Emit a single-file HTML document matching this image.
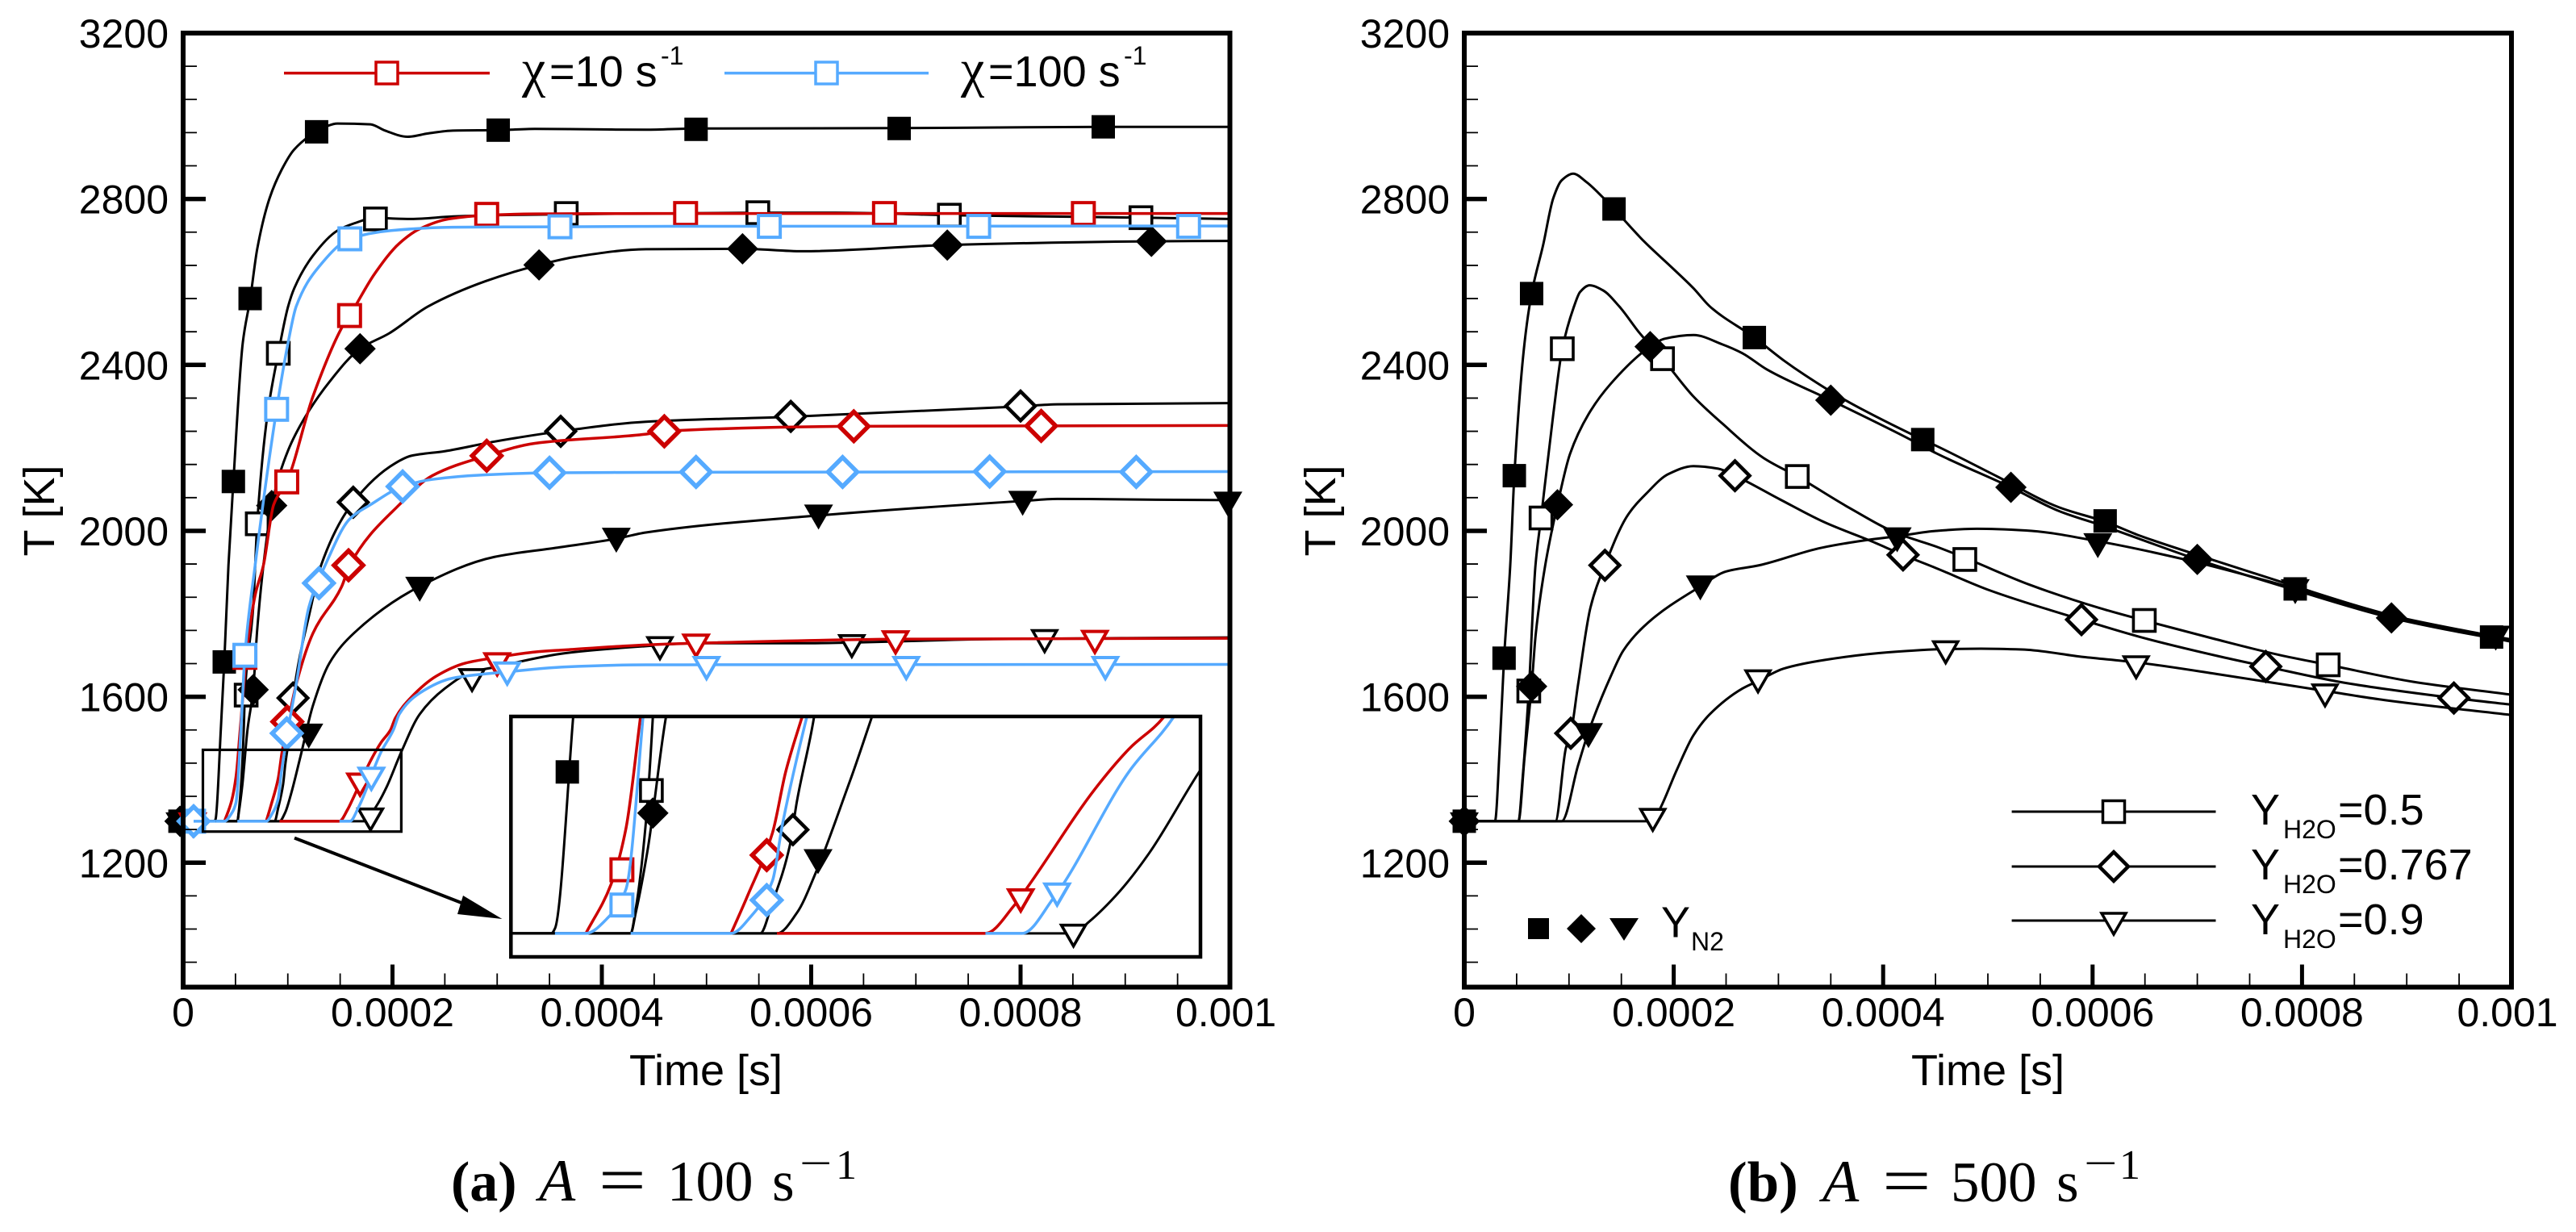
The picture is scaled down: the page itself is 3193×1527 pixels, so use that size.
<!DOCTYPE html>
<html lang="en">
<head>
<meta charset="utf-8">
<title>Temperature versus time</title>
<style>
html,body{margin:0;padding:0;background:#fff;}
svg{display:block;}
text{font-family:"Liberation Sans",sans-serif;fill:#000;}
.serif{font-family:"Liberation Serif",serif;}
</style>
</head>
<body>
<svg id="figure" xmlns="http://www.w3.org/2000/svg" width="3193" height="1527" viewBox="0 0 3193 1527">
<rect x="0" y="0" width="3193" height="1527" fill="#fff"/>
<defs>
<clipPath id="inset-clip"><rect x="633.3" y="888" width="854.7" height="298"/></clipPath>
</defs>
<g id="panel-a"></g>
<g id="panel-b"></g>

<g>
<line x1="352" y1="90.6" x2="607" y2="90.6" stroke="#cc0000" stroke-width="3.5"/>
<rect x="466" y="77" width="27" height="27" fill="#fff" stroke="#cc0000" stroke-width="3.5"/>
<text class="serif" x="647" y="107" font-size="66">χ</text>
<text x="681" y="107" font-size="54">=10 s</text>
<text x="819" y="80" font-size="32">-1</text>
<line x1="898" y1="90.6" x2="1151" y2="90.6" stroke="#55aaff" stroke-width="3.5"/>
<rect x="1011" y="77" width="27" height="27" fill="#fff" stroke="#55aaff" stroke-width="3.5"/>
<text class="serif" x="1191" y="107" font-size="66">χ</text>
<text x="1225" y="107" font-size="54">=100 s</text>
<text x="1393" y="80" font-size="32">-1</text>
</g>

<g>
<line x1="2493.6" y1="1006" x2="2746.5" y2="1006" stroke="#000" stroke-width="3"/>
<rect x="2606.5" y="992.5" width="27" height="27" fill="#fff" stroke="#000" stroke-width="3.5"/>
<text x="2790" y="1022" font-size="54">Y</text>
<text x="2830" y="1039" font-size="32">H2O</text>
<text x="2898" y="1022" font-size="54">=0.5</text>
<line x1="2493.6" y1="1074" x2="2746.5" y2="1074" stroke="#000" stroke-width="3"/>
<polygon points="2620,1056 2638,1074 2620,1092 2602,1074" fill="#fff" stroke="#000" stroke-width="4.5"/>
<text x="2790" y="1090" font-size="54">Y</text>
<text x="2830" y="1107" font-size="32">H2O</text>
<text x="2898" y="1090" font-size="54">=0.767</text>
<line x1="2493.6" y1="1141" x2="2746.5" y2="1141" stroke="#000" stroke-width="3"/>
<polygon points="2605,1132 2635,1132 2620,1158" fill="#fff" stroke="#000" stroke-width="3.5"/>
<text x="2790" y="1158" font-size="54">Y</text>
<text x="2830" y="1175" font-size="32">H2O</text>
<text x="2898" y="1158" font-size="54">=0.9</text>
</g>

<g>
<rect x="1894" y="1138" width="26" height="26" fill="#000"/>
<polygon points="1960,1133 1978,1151 1960,1169 1942,1151" fill="#000"/>
<polygon points="1995,1138 2031,1138 2013,1166" fill="#000"/>
<text x="2059" y="1161.5" font-size="54">Y</text>
<text x="2096" y="1178" font-size="32">N2</text>
</g>

<g>
<text x="875" y="1345" font-size="54" text-anchor="middle">Time [s]</text>
<text x="2464" y="1345" font-size="54" text-anchor="middle">Time [s]</text>
<text transform="translate(67,633) rotate(-90)" font-size="54" text-anchor="middle">T [K]</text>
<text transform="translate(1655,633) rotate(-90)" font-size="54" text-anchor="middle">T [K]</text>
</g>

<g>
<text class="serif" x="559" y="1488" font-size="70" font-weight="bold">(a)</text>
<text class="serif" x="668" y="1488" font-size="74" font-style="italic">A</text>
<text class="serif" transform="translate(742,1490) scale(1.27,1)" font-size="82">=</text>
<text class="serif" x="827" y="1488" font-size="71">100</text>
<text class="serif" x="957" y="1488" font-size="71">s</text>
<text class="serif" transform="translate(991,1459) scale(1.38,1)" font-size="52">−</text>
<text class="serif" x="1036" y="1461" font-size="52">1</text>
</g>
<g>
<text class="serif" x="2142" y="1489" font-size="71" font-weight="bold">(b)</text>
<text class="serif" x="2259" y="1489" font-size="74" font-style="italic">A</text>
<text class="serif" transform="translate(2333,1491) scale(1.31,1)" font-size="82">=</text>
<text class="serif" x="2418" y="1489" font-size="71">500</text>
<text class="serif" x="2549" y="1489" font-size="71">s</text>
<text class="serif" transform="translate(2583,1459) scale(1.42,1)" font-size="52">−</text>
<text class="serif" x="2627" y="1461" font-size="52">1</text>
</g>
</svg>

<script>
// ===== Shared axis data (time in microseconds, temperature in kelvin) =====
const xTickValues = [0, 200, 400, 600, 800, 1000];
const xTickLabels = ['0', '0.0002', '0.0004', '0.0006', '0.0008', '0.001'];
const xMinorValues = [50, 100, 150, 250, 300, 350, 450, 500, 550, 650, 700, 750, 850, 900, 950];
const yTickValues = [1200, 1600, 2000, 2400, 2800, 3200];
const yTickLabels = ['1200', '1600', '2000', '2400', '2800', '3200'];
const yMinorValues = [960, 1040, 1120, 1280, 1360, 1440, 1520, 1680, 1760, 1840, 1920, 2080, 2160, 2240, 2320, 2480, 2560, 2640, 2720, 2880, 2960, 3040, 3120];

// ===== Panel (a) A = 100 1/s =====
const aSquareFilledLine = [[0,1300],[30,1300],[31,1305],[36,1521],[39.3,1684],[43.3,1917],[48,2119],[57,2454],[64.1,2560],[70.8,2680],[82.6,2802],[94.4,2872],[106,2919],[127.5,2962],[147.5,2982],[179,2980],[192.8,2965],[214.4,2950],[234,2958],[257.7,2965],[301,2966],[336,2969],[442,2967],[490,2970],[684,2971],[879,2974],[1000,2974]];
const aSquareFilledMarks = [[-3,1300],[39.3,1684],[48,2119],[64,2560],[127.5,2962],[301,2966],[490,2968],[684,2970],[879,2974]];

const aDiamondFilledLine = [[0,1300],[51.8,1300],[53.2,1321],[56.5,1386],[61.5,1521],[66.9,1617],[70.8,1763],[76.7,1917],[84.6,2061],[100.3,2194],[116,2272],[139.7,2359],[169,2439],[196.7,2476],[234,2541],[289,2602],[340,2641],[375.7,2661],[442,2679],[534.4,2680],[591.5,2674],[730,2689],[925,2698],[1000,2699]];
const aDiamondFilledMarks = [[-3,1300],[66.9,1617],[84.6,2061],[169,2439],[340,2641],[534.4,2680],[730,2689],[925,2698]];

const aTriangleFilledLine = [[0,1300],[92.1,1300],[97.5,1321],[102.9,1364],[112,1455],[123.9,1578],[139.7,1681],[163,1753],[226,1866],[297,1937],[356,1959],[413.8,1981],[442,1996],[607,2037],[802,2072],[835,2077],[930,2075],[1000,2074]];
const aTriangleFilledMarks = [[-3,1300],[120,1514],[226,1868],[413.8,1986],[607,2042],[802,2075],[998,2073]];

const aSquareOpenLine = [[0,1300],[51.8,1300],[53.2,1325],[55.9,1410],[57.9,1521],[59,1609],[66.9,1815],[70.8,2020],[80.6,2281],[90.9,2428],[100.3,2541],[106.2,2585],[123.9,2663],[147.5,2724],[163,2741],[183,2754],[218,2752],[258,2758],[297,2761],[366,2763],[549,2767],[623,2767],[732,2761],[855,2757],[915,2755],[1000,2752]];
const aSquareOpenMarks = [[60.2,1604],[70.8,2017],[90.9,2428],[183.7,2752],[366,2765],[549,2767],[732,2761],[915,2755]];

const aDiamondOpenLine = [[0,1300],[87.4,1300],[90.8,1332],[95.5,1389],[97.5,1435],[102.2,1521],[105,1597],[122,1815],[131.8,1917],[162.5,2069],[202.6,2163],[218,2181],[250,2192],[297,2215],[360.7,2240],[442,2263],[579.7,2275],[800,2300],[835,2305],[1000,2308]];
const aDiamondOpenMarks = [[105,1597],[162.5,2069],[360.7,2240],[580.5,2276],[800,2301]];

const aTriangleOpenLine = [[0,1300],[173.5,1300],[177.5,1311],[186.2,1343],[194.3,1382],[208.4,1467],[226,1558],[250,1620],[276,1660],[297,1671],[364.7,1705],[442,1722],[487.5,1729],[590,1729],[774,1739],[1000,1743]];
const aTriangleOpenMarks = [[179,1312],[276,1648],[455.5,1725],[638.8,1730],[823,1742]];

const aSquareRedLine = [[39.5,1300],[46.4,1350],[50.5,1407],[54.5,1521],[61,1712],[68.8,1845],[76.7,1917],[86.5,2063],[99,2118],[124,2324],[153.4,2498],[159,2519],[183,2620],[206.5,2693],[226,2728],[254,2752],[290,2761],[336,2764],[442,2765],[1000,2765]];
const aSquareRedMarks = [[59,1695],[99,2118],[159,2519],[290,2763],[480,2765],[670,2765],[860,2765]];

const aDiamondRedLine = [[79.4,1300],[84,1339],[90.8,1403],[94.4,1465],[98.9,1521],[108,1630],[124,1753],[151.5,1866],[159,1917],[206.5,2063],[238,2133],[290,2181],[336,2211],[442,2233],[459.7,2240],[640.7,2252],[819.7,2253],[1000,2254]];
const aDiamondRedMarks = [[99.5,1540],[158,1917],[290,2181],[459.7,2240],[640.7,2252],[819.7,2253]];

const aTriangleRedLine = [[92,1300],[149.3,1300],[157.3,1329],[161.4,1350],[179.5,1448],[188.9,1489],[198.3,1521],[202.6,1548],[218,1599],[242,1650],[269.5,1681],[300,1695],[336,1708],[364.7,1713],[442,1725],[487.5,1729],[692,1739],[1000,1741]];
const aTriangleRedMarks = [[9,1300],[169,1396],[300,1686],[490,1731],[680.6,1739],[871,1740]];

const aSquareBlueStub = [[10,1300],[31,1300]];
const aSquareBlueLine = [[31,1300],[39.5,1300],[45.8,1317],[50.5,1345],[55.2,1521],[59,1700],[68.8,1917],[89.3,2293],[100.3,2454],[108,2541],[129.8,2637],[159.3,2704],[198.7,2724],[257.7,2732],[360,2733],[442,2734],[1000,2735]];
const aSquareBlueMarks = [[10,1300],[59,1700],[89.3,2293],[159.3,2704],[360,2733],[560,2734],[760,2734],[960.5,2734]];

const aDiamondBlueLine = [[51.8,1300],[79.4,1300],[85,1318],[90.8,1354],[93.5,1411],[100.2,1521],[108,1630],[120,1815],[135.7,1917],[159.3,2029],[179,2063],[209.7,2107],[238,2124],[289,2135],[350,2140],[442,2141],[1000,2143]];
const aDiamondBlueMarks = [[10,1300],[99,1512],[129.8,1874],[209.7,2107],[350,2140],[490,2142],[630,2142],[770.5,2143],[910.5,2142]];

const aTriangleBlueLine = [[149.3,1300],[159.4,1300],[168,1336],[188.9,1466],[201,1521],[206.5,1558],[226,1609],[257.7,1645],[309.6,1660],[364.7,1672],[442,1677],[1000,1678]];
const aTriangleBlueMarks = [[179.8,1410],[309.6,1664],[500,1677],[690.8,1677],[881,1677]];

// Inset marker readings (the magnified view carries its own symbols)
const insetSquareFilledMarks = [[34.4,1465]];
const insetSquareOpenMarks = [[57.5,1446]];
const insetDiamondFilledMarks = [[57.9,1423]];
const insetTriangleFilledMarks = [[103.3,1377]];
const insetDiamondOpenMarks = [[96.4,1406]];
const insetTriangleOpenMarks = [[173.5,1301]];
const insetSquareRedMarks = [[49.4,1365]];
const insetDiamondRedMarks = [[89.2,1380]];
const insetTriangleRedMarks = [[159,1337]];
const insetSquareBlueMarks = [[49.4,1329]];
const insetDiamondBlueMarks = [[89.2,1334]];
const insetTriangleBlueMarks = [[169,1343]];

// ===== Panel (b) A = 500 1/s =====
const bSquareOpenLine = [[0,1300],[51.7,1300],[55.7,1404],[61.6,1614],[68,1917],[73.3,2031],[85,2281],[93.6,2439],[104.8,2541],[110.6,2576],[119.7,2592],[132.3,2580],[148,2541],[167.7,2476],[189.3,2415],[218.8,2324],[246.3,2259],[285.6,2176],[318,2131],[368,2055],[413.4,1994],[450.7,1962],[478,1935],[540,1870],[606.5,1814],[649.4,1784],[715.6,1740],[778,1701],[825,1677],[906.5,1636],[1000,1605]];
const bSquareOpenMarks = [[61.6,1614],[73.3,2031],[93.6,2439],[189.3,2415],[318,2131],[478,1931],[649.4,1784],[825,1677]];

const bDiamondOpenLine = [[0,1300],[87,1300],[97,1476],[101.7,1512],[108.7,1630],[120.5,1815],[134.3,1917],[155.9,2037],[173.5,2089],[195,2137],[218.8,2156],[242.4,2150],[258.5,2133],[301.3,2076],[344.6,2020],[387.8,1976],[419,1942],[450.7,1910],[501.3,1857],[589.4,1786],[645.5,1744],[723.4,1696],[765.4,1673],[840,1634],[945,1597],[1000,1581]];
const bDiamondOpenMarks = [[101.7,1512],[134.3,1917],[258.5,2133],[419,1942],[589.4,1786],[765.4,1673],[945,1597]];

const bTriangleOpenLine = [[0,1300],[180,1300],[187.3,1332],[203,1424],[218.8,1507],[234.5,1558],[265.7,1620],[280.5,1638],[305,1668],[344.6,1689],[403.5,1707],[459.7,1715],[493.5,1716],[532.5,1714],[591,1696],[641.6,1683],[723.4,1653],[822,1614],[879,1592],[1000,1556]];
const bTriangleOpenMarks = [[180,1311],[280.5,1645],[459.7,1715],[641.6,1679],[822,1611]];

const bSquareFilledLine = [[0,1300],[29.3,1300],[34,1486],[38,1693],[43.9,1917],[47.8,2133],[57.6,2454],[64.3,2572],[75.3,2689],[85,2802],[93,2845],[104,2861],[116.6,2841],[132.3,2804],[143,2776],[171.6,2698],[199,2633],[218.8,2585],[234.5,2541],[277,2466],[305,2411],[325,2376],[364,2315],[437.8,2220],[450.7,2205],[509,2131],[567.6,2057],[612,2022],[645.5,1988],[700,1942],[793.5,1866],[859.7,1814],[918,1775],[981,1744],[1000,1736]];
const bSquareFilledMarks = [[0,1300],[38,1693],[47.8,2133],[64.3,2572],[143,2776],[277,2466],[437.8,2220],[612,2024],[793.5,1860],[981,1744]];

const bDiamondFilledLine = [[0,1300],[51.7,1300],[57.6,1455],[64.3,1625],[68.2,1750],[77.3,1917],[89,2063],[100.9,2185],[118.6,2281],[140,2355],[177.5,2444],[191,2463],[219,2472],[246,2450],[265.7,2428],[289,2389],[350,2315],[423,2224],[450.7,2187],[522,2105],[567.6,2048],[610,2012],[700,1931],[793.5,1857],[885.4,1790],[937.6,1762],[1000,1733]];
const bDiamondFilledMarks = [[0,1300],[64.3,1625],[89,2063],[177.5,2444],[350,2315],[522,2105],[700,1931],[885.4,1790]];

const bTriangleFilledLine = [[0,1300],[93,1300],[108.7,1435],[118.6,1515],[140,1650],[152,1712],[175.6,1779],[225.4,1866],[250,1902],[281.7,1917],[340.7,1959],[387.8,1979],[413.4,1987],[450.7,2000],[489.6,2005],[536.4,2001],[605,1975],[688,1931],[793.5,1861],[885,1796],[981,1747],[1000,1738]];
const bTriangleFilledMarks = [[0,1300],[118.6,1515],[225.4,1871],[413.4,1987],[605,1973],[793.5,1862],[985,1750]];

// ===== Axis functions =====
const frameA = {left: 227, right: 1524.5, top: 41, bottom: 1223.5};
const frameB = {left: 1815, right: 3113, top: 41, bottom: 1223.5};
const tempMin = 900;
const tempMax = 3200;
const timeMax = 1000;
function xAxis(frame) { return function (t) { return frame.left + t / timeMax * (frame.right - frame.left); }; }
function yAxis(frame) { return function (T) { return frame.top + (tempMax - T) / (tempMax - tempMin) * (frame.bottom - frame.top); }; }
const insetBox = {left: 633.3, right: 1488, top: 888, bottom: 1186, tMin: 18.9, tMax: 208.4, TMin: 1276, TMax: 1521.7};
function insetX(t) { return insetBox.left + (t - insetBox.tMin) / (insetBox.tMax - insetBox.tMin) * (insetBox.right - insetBox.left); }
function insetY(T) { return insetBox.bottom - (T - insetBox.TMin) / (insetBox.TMax - insetBox.TMin) * (insetBox.bottom - insetBox.top); }

// ===== Drawing helpers =====
const NS = 'http://www.w3.org/2000/svg';
function make(tag, parent, attrs) {
  const node = document.createElementNS(NS, tag);
  for (const key in attrs) { node.setAttribute(key, attrs[key]); }
  parent.appendChild(node);
  return node;
}
function curve(points) {
  const n = points.length;
  const dx = [], m = [], slope = [];
  for (let i = 0; i < n - 1; i++) {
    dx[i] = Math.max(points[i + 1][0] - points[i][0], 0.001);
    m[i] = (points[i + 1][1] - points[i][1]) / dx[i];
  }
  slope[0] = m[0];
  slope[n - 1] = m[n - 2];
  for (let i = 1; i < n - 1; i++) {
    if (m[i - 1] * m[i] <= 0) { slope[i] = 0; }
    else {
      const w1 = 2 * dx[i] + dx[i - 1], w2 = dx[i] + 2 * dx[i - 1];
      slope[i] = (w1 + w2) / (w1 / m[i - 1] + w2 / m[i]);
    }
  }
  let d = 'M' + points[0][0].toFixed(2) + ' ' + points[0][1].toFixed(2);
  for (let i = 0; i < n - 1; i++) {
    const h = dx[i] / 3;
    d += 'C' + (points[i][0] + h).toFixed(2) + ' ' + (points[i][1] + slope[i] * h).toFixed(2) + ' ' +
      (points[i + 1][0] - h).toFixed(2) + ' ' + (points[i + 1][1] - slope[i + 1] * h).toFixed(2) + ' ' +
      points[i + 1][0].toFixed(2) + ' ' + points[i + 1][1].toFixed(2);
  }
  return d;
}
function drawMarker(parent, shape, filled, color, cx, cy, label) {
  let mark;
  if (shape === 'square') {
    const h = filled ? 14.5 : 13.5;
    mark = make('rect', parent, {x: cx - h, y: cy - h, width: 2 * h, height: 2 * h});
  } else if (shape === 'diamond') {
    const h = filled ? 19.5 : 18;
    mark = make('polygon', parent, {points: cx + ',' + (cy - h) + ' ' + (cx + h) + ',' + cy + ' ' + cx + ',' + (cy + h) + ' ' + (cx - h) + ',' + cy});
  } else {
    const w = filled ? 18 : 15;
    const up = filled ? 11 : 9;
    const down = filled ? 20 : 17;
    mark = make('polygon', parent, {points: (cx - w) + ',' + (cy - up) + ' ' + (cx + w) + ',' + (cy - up) + ' ' + cx + ',' + (cy + down)});
  }
  mark.setAttribute('fill', filled ? color : '#fff');
  if (!filled) {
    mark.setAttribute('stroke', color);
    mark.setAttribute('stroke-width', shape === 'diamond' ? (color === '#000' ? 4.5 : 5.5) : (color === '#000' ? 3.6 : 4));
  }
  
  
}
function drawSeries(parent, s, marks, xf, yf, suffix) {
  const g = make('g', parent, {});
  
  
  const path = make('path', g, {d: curve(s.line.map(function (p) { return [xf(p[0]), yf(p[1])]; })), fill: 'none', stroke: s.color, 'stroke-width': s.color === '#000' ? 3 : 3.5, 'stroke-linejoin': 'round'});
  
  
  marks.forEach(function (p) {
    drawMarker(g, s.shape, s.filled, s.color, xf(p[0]), yf(p[1]), s.name + suffix + '-marker');
  });
}
function drawAxes(parent, frame, xf, yf, suffix) {
  xMinorValues.forEach(function (v) {
    const tick = make('line', parent, {x1: xf(v), x2: xf(v), y1: frame.bottom, y2: frame.bottom - 17, stroke: '#000', 'stroke-width': 1.8});
    
    
  });
  yMinorValues.forEach(function (v) {
    const tick = make('line', parent, {x1: frame.left, x2: frame.left + 17, y1: yf(v), y2: yf(v), stroke: '#000', 'stroke-width': 1.8});
    
    
  });
  xTickValues.forEach(function (v, i) {
    if (i > 0 && i < xTickValues.length - 1) {
      const tick = make('line', parent, {x1: xf(v), x2: xf(v), y1: frame.bottom, y2: frame.bottom - 28, stroke: '#000', 'stroke-width': 5});
      
      
    }
    const label = make('text', parent, {x: i === xTickValues.length - 1 ? xf(v) - 5 : xf(v), y: 1272, 'font-size': 50, 'text-anchor': 'middle'});
    label.textContent = xTickLabels[i];
    
    
  });
  yTickValues.forEach(function (v, i) {
    if (i < yTickValues.length - 1) {
      const tick = make('line', parent, {x1: frame.left, x2: frame.left + 28, y1: yf(v), y2: yf(v), stroke: '#000', 'stroke-width': 5.5});
      
      
    }
    const label = make('text', parent, {x: frame.left - 18, y: yf(v) + 18, 'font-size': 50, 'text-anchor': 'end'});
    label.textContent = yTickLabels[i];
    
    
  });
  const box = make('rect', parent, {x: frame.left, y: frame.top, width: frame.right - frame.left, height: frame.bottom - frame.top, fill: 'none', stroke: '#000', 'stroke-width': 6});
  
  
}

// ===== Series configuration =====
const BLACK = '#000';
const RED = '#cc0000';
const BLUE = '#55aaff';
const seriesA = [
  {name: 'series-h2o-05-black', color: BLACK, shape: 'square', filled: false, line: aSquareOpenLine, marks: aSquareOpenMarks, inset: insetSquareOpenMarks},
  {name: 'series-h2o-0767-black', color: BLACK, shape: 'diamond', filled: false, line: aDiamondOpenLine, marks: aDiamondOpenMarks, inset: insetDiamondOpenMarks},
  {name: 'series-h2o-09-black', color: BLACK, shape: 'triangle', filled: false, line: aTriangleOpenLine, marks: aTriangleOpenMarks, inset: insetTriangleOpenMarks},
  {name: 'series-n2-05', color: BLACK, shape: 'square', filled: true, line: aSquareFilledLine, marks: aSquareFilledMarks, inset: insetSquareFilledMarks},
  {name: 'series-n2-0767', color: BLACK, shape: 'diamond', filled: true, line: aDiamondFilledLine, marks: aDiamondFilledMarks, inset: insetDiamondFilledMarks},
  {name: 'series-n2-09', color: BLACK, shape: 'triangle', filled: true, line: aTriangleFilledLine, marks: aTriangleFilledMarks, inset: insetTriangleFilledMarks},
  {name: 'series-h2o-05-chi-10', color: RED, shape: 'square', filled: false, line: aSquareRedLine, marks: aSquareRedMarks, inset: insetSquareRedMarks},
  {name: 'series-h2o-0767-chi-10', color: RED, shape: 'diamond', filled: false, line: aDiamondRedLine, marks: aDiamondRedMarks, inset: insetDiamondRedMarks},
  {name: 'series-h2o-09-chi-10', color: RED, shape: 'triangle', filled: false, line: aTriangleRedLine, marks: aTriangleRedMarks, inset: insetTriangleRedMarks},
  {name: 'series-h2o-09-chi-100', color: BLUE, shape: 'triangle', filled: false, line: aTriangleBlueLine, marks: aTriangleBlueMarks, inset: insetTriangleBlueMarks},
  {name: 'series-h2o-05-chi-100', color: BLUE, shape: 'square', filled: false, line: aSquareBlueLine, marks: aSquareBlueMarks, inset: insetSquareBlueMarks},
  {name: 'series-h2o-0767-chi-100', color: BLUE, shape: 'diamond', filled: false, line: aDiamondBlueLine, marks: aDiamondBlueMarks, inset: insetDiamondBlueMarks}
];
const seriesB = [
  {name: 'series-b-h2o-05', color: BLACK, shape: 'square', filled: false, line: bSquareOpenLine, marks: bSquareOpenMarks},
  {name: 'series-b-h2o-0767', color: BLACK, shape: 'diamond', filled: false, line: bDiamondOpenLine, marks: bDiamondOpenMarks},
  {name: 'series-b-h2o-09', color: BLACK, shape: 'triangle', filled: false, line: bTriangleOpenLine, marks: bTriangleOpenMarks},
  {name: 'series-b-n2-09', color: BLACK, shape: 'triangle', filled: true, line: bTriangleFilledLine, marks: bTriangleFilledMarks},
  {name: 'series-b-n2-05', color: BLACK, shape: 'square', filled: true, line: bSquareFilledLine, marks: bSquareFilledMarks},
  {name: 'series-b-n2-0767', color: BLACK, shape: 'diamond', filled: true, line: bDiamondFilledLine, marks: bDiamondFilledMarks}
];

// ===== Panel (a) =====
const panelA = document.getElementById('panel-a');
const xA = xAxis(frameA);
const yA = yAxis(frameA);
seriesA.forEach(function (s) { drawSeries(panelA, s, s.marks, xA, yA, ''); });
const stub = make('path', panelA, {d: curve(aSquareBlueStub.map(function (p) { return [xA(p[0]), yA(p[1])]; })), fill: 'none', stroke: BLUE, 'stroke-width': 3.5});



const zoomBox = make('rect', panelA, {x: 251.5, y: 929.4, width: 245.9, height: 101.3, fill: 'none', stroke: '#000', 'stroke-width': 3.2});



const arrowShaft = make('line', panelA, {x1: 365, y1: 1038.6, x2: 590, y2: 1126, stroke: '#000', 'stroke-width': 4});


const arrowHead = make('polygon', panelA, {points: '622.4,1139 574,1110 567,1133', fill: '#000'});



const insetGroup = make('g', panelA, {});


const insetBg = make('rect', insetGroup, {x: insetBox.left, y: insetBox.top, width: insetBox.right - insetBox.left, height: insetBox.bottom - insetBox.top, fill: '#fff'});


const insetClip = make('g', insetGroup, {'clip-path': 'url(#inset-clip)'});


seriesA.forEach(function (s) { drawSeries(insetClip, s, s.inset, insetX, insetY, '-inset'); });
const insetFrame = make('rect', insetGroup, {x: insetBox.left, y: insetBox.top, width: insetBox.right - insetBox.left, height: insetBox.bottom - insetBox.top, fill: 'none', stroke: '#000', 'stroke-width': 4.5});



drawAxes(panelA, frameA, xA, yA, '-a');

// ===== Panel (b) =====
const panelB = document.getElementById('panel-b');
const xB = xAxis(frameB);
const yB = yAxis(frameB);
seriesB.forEach(function (s) { drawSeries(panelB, s, s.marks, xB, yB, ''); });
drawAxes(panelB, frameB, xB, yB, '-b');
</script>
</body>
</html>
